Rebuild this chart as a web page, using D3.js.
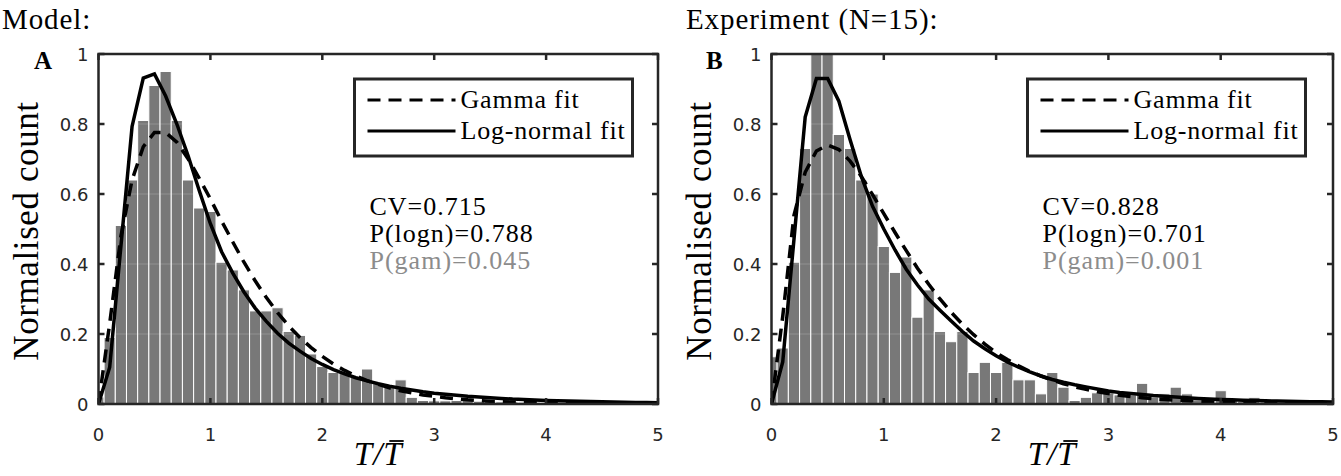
<!DOCTYPE html>
<html>
<head>
<meta charset="utf-8">
<script src="https://cdn.jsdelivr.net/npm/d3@7"></script>
<style>
  body { margin: 0; background: #fff; }
  svg { display: block; }
</style>
</head>
<body>
<script>
// bin centres (T / mean T), shared by histograms and fit curves
var binCentres = [0,0.1,0.2,0.3,0.4,0.5,0.6,0.7,0.8,0.9,1,1.1,1.2,1.3,1.4,1.5,1.6,1.7,1.8,1.9,2,
  2.1,2.2,2.3,2.4,2.5,2.6,2.7,2.8,2.9,3,3.1,3.2,3.3,3.4,3.5,3.6,3.7,3.8,3.9,4,
  4.1,4.2,4.3,4.4,4.5,4.6,4.7,4.8,4.9,5];

// panel A: model
var modelCounts = [0.02,0.19,0.51,0.64,0.81,0.91,0.95,0.81,0.64,0.56,0.55,0.405,0.383,0.326,0.266,0.266,0.275,
  0.207,0.196,0.143,0.107,0.09,0.09,0.078,0.1,0.058,0.05,0.069,0.019,0.01,0.009,0.009,0.01,0.012,0.008,0.008,
  0.006,0.006,0.005,0.005,0.004,0.004,0.003,0.003,0.003,0.002,0.002,0.002,0.001,0.001,0.001];
var modelGamma = [0,0.23,0.479,0.64,0.735,0.776,0.776,0.748,0.701,0.645,0.586,0.523,0.463,0.405,0.352,0.304,
  0.261,0.223,0.19,0.161,0.136,0.114,0.096,0.08,0.067,0.056,0.046,0.038,0.032,0.026,0.022,0.018,0.015,0.012,
  0.01,0.008,0.0066,0.0054,0.0044,0.0036,0.0029,0.0024,0.002,0.0016,0.0013,0.001,0.0008,0.0007,0.0005,0.0004,0.0004];
var modelLogn = [0,0.105,0.45,0.793,0.931,0.943,0.88,0.8,0.71,0.61,0.515,0.435,0.374,0.32,0.274,0.236,0.202,
  0.174,0.151,0.13,0.113,0.098,0.086,0.075,0.066,0.058,0.051,0.045,0.04,0.035,0.031,0.028,0.025,0.022,0.02,
  0.018,0.016,0.014,0.013,0.0115,0.0103,0.0093,0.0084,0.0076,0.0069,0.0062,0.0056,0.0051,0.0046,0.0042,0.0038];
var modelStats = ["CV=0.715", "P(logn)=0.788", "P(gam)=0.045"];

// panel B: experiment
var exptCounts = [0.135,0.16,0.405,0.73,1.0,1.0,0.77,0.73,0.64,0.6,0.45,0.376,0.42,0.248,0.326,0.207,0.178,
  0.207,0.09,0.119,0.09,0.119,0.069,0.069,0.029,0.09,0.048,0.01,0.019,0.032,0.032,0.026,0.026,0.059,0.02,
  0.029,0.048,0.029,0.012,0.01,0.038,0.01,0.008,0.019,0.006,0.005,0.004,0.004,0.003,0.003,0.002];
var exptGamma = [0,0.25,0.539,0.662,0.723,0.74,0.727,0.694,0.65,0.598,0.544,0.49,0.438,0.388,0.342,0.3,0.262,
  0.228,0.198,0.171,0.147,0.127,0.109,0.093,0.08,0.068,0.058,0.049,0.042,0.035,0.03,0.025,0.021,0.018,0.015,
  0.013,0.011,0.009,0.0077,0.0065,0.0055,0.0046,0.0038,0.0032,0.0027,0.0023,0.0019,0.0016,0.0013,0.0011,0.0009];
var exptLogn = [0,0.12,0.47,0.82,0.93,0.93,0.865,0.755,0.65,0.565,0.5,0.44,0.385,0.34,0.3,0.268,0.237,0.207,
  0.18,0.158,0.138,0.12,0.105,0.092,0.08,0.07,0.062,0.055,0.049,0.043,0.037,0.033,0.03,0.027,0.024,0.022,
  0.02,0.018,0.016,0.0145,0.013,0.012,0.011,0.01,0.0092,0.0085,0.0078,0.0072,0.0066,0.0061,0.0056];
var exptStats = ["CV=0.828", "P(logn)=0.701", "P(gam)=0.001"];

var xTicks = [0, 1, 2, 3, 4, 5];
var yTicks = [0, 0.2, 0.4, 0.6, 0.8, 1];
var yTickLabels = ["0", "0.2", "0.4", "0.6", "0.8", "1"];
var legendLabels = ["Gamma fit", "Log-normal fit"];

var width = 1341, height = 476;
var serif = "'Liberation Serif', 'Times New Roman', serif";
var sans = "'DejaVu Sans', sans-serif";
var axisColor = "#262626";

var svg = d3.select("body").append("svg")
  .attr("width", width)
  .attr("height", height);

var panels = [
  { left: 98.5, right: 658, title: "Model:", titleX: 2, letter: "A", letterX: 34,
    counts: modelCounts, gamma: modelGamma, logn: modelLogn, stats: modelStats },
  { left: 771.5, right: 1333, title: "Experiment (N=15):", titleX: 686, letter: "B", letterX: 706,
    counts: exptCounts, gamma: exptGamma, logn: exptLogn, stats: exptStats }
];

var plotTop = 54, plotBottom = 404;

panels.forEach(function(p, pi) {
  var x = d3.scaleLinear().domain([0, 5]).range([p.left, p.right]);
  var y = d3.scaleLinear().domain([0, 1]).range([plotBottom, plotTop]);
  var g = svg.append("g");

  var clipId = "clip" + pi;
  svg.append("clipPath").attr("id", clipId)
    .append("rect")
      .attr("x", p.left).attr("y", plotTop)
      .attr("width", p.right - p.left).attr("height", plotBottom - plotTop);

  var plot = g.append("g").attr("clip-path", "url(#" + clipId + ")");

  // histogram bars
  plot.selectAll("rect.bar")
    .data(p.counts)
    .enter()
    .append("rect")
      .attr("class", "bar")
      .attr("x", function(d, i) { return x(binCentres[i] - 0.05); })
      .attr("width", x(0.1) - x(0))
      .attr("y", function(d) { return y(d); })
      .attr("height", function(d) { return y(0) - y(d); })
      .attr("fill", "#787878")
      .attr("stroke", "#ffffff")
      .attr("stroke-width", 1);

  // faint grid over bars
  plot.selectAll("line.grid")
    .data(yTicks.slice(1, 5))
    .enter()
    .append("line")
      .attr("x1", p.left).attr("x2", p.right)
      .attr("y1", function(d) { return y(d); })
      .attr("y2", function(d) { return y(d); })
      .attr("stroke", "#ffffff")
      .attr("stroke-opacity", 0.18)
      .attr("stroke-width", 1);

  var line = d3.line()
    .x(function(d, i) { return x(binCentres[i]); })
    .y(function(d) { return y(d); });

  plot.append("path")
    .attr("d", line(p.gamma))
    .attr("fill", "none")
    .attr("stroke", "#000")
    .attr("stroke-width", 3.5)
    .attr("stroke-dasharray", "13,8");

  plot.append("path")
    .attr("d", line(p.logn))
    .attr("fill", "none")
    .attr("stroke", "#000")
    .attr("stroke-width", 3.5);

  // axes box
  g.append("rect")
    .attr("x", p.left).attr("y", plotTop)
    .attr("width", p.right - p.left).attr("height", plotBottom - plotTop)
    .attr("fill", "none")
    .attr("stroke", axisColor)
    .attr("stroke-width", 2.5);

  var tl = 6;
  xTicks.forEach(function(t) {
    g.append("line").attr("x1", x(t)).attr("x2", x(t)).attr("y1", plotBottom).attr("y2", plotBottom - tl)
      .attr("stroke", axisColor).attr("stroke-width", 2.5);
    g.append("line").attr("x1", x(t)).attr("x2", x(t)).attr("y1", plotTop).attr("y2", plotTop + tl)
      .attr("stroke", axisColor).attr("stroke-width", 2.5);
    g.append("text")
      .attr("x", x(t)).attr("y", 441)
      .attr("text-anchor", "middle")
      .style("font-family", sans).style("font-size", "18px")
      .attr("fill", "#262626")
      .text(t);
  });
  yTicks.forEach(function(t, i) {
    g.append("line").attr("x1", p.left).attr("x2", p.left + tl).attr("y1", y(t)).attr("y2", y(t))
      .attr("stroke", axisColor).attr("stroke-width", 2.5);
    g.append("line").attr("x1", p.right).attr("x2", p.right - tl).attr("y1", y(t)).attr("y2", y(t))
      .attr("stroke", axisColor).attr("stroke-width", 2.5);
    g.append("text")
      .attr("x", p.left - 10).attr("y", y(t) + 7)
      .attr("text-anchor", "end")
      .style("font-family", sans).style("font-size", "18px")
      .attr("fill", "#262626")
      .text(yTickLabels[i]);
  });

  // axis labels
  g.append("text")
    .attr("transform", "translate(" + (p.left - 61) + "," + ((plotTop + plotBottom) / 2 + 2) + ") rotate(-90)")
    .attr("text-anchor", "middle")
    .style("font-family", serif).style("font-size", "35px")
    .style("letter-spacing", "0.6px")
    .text("Normalised count");

  var xl = g.append("text")
    .attr("x", (p.left + p.right) / 2).attr("y", 465)
    .attr("text-anchor", "middle")
    .style("font-family", serif).style("font-size", "33px").style("font-style", "italic")
    .style("letter-spacing", "1px")
    .text("T/T");
  var ext = xl.node().getExtentOfChar(2);
  g.append("line")
    .attr("x1", ext.x + 6).attr("x2", ext.x + ext.width + 1)
    .attr("y1", ext.y + 5).attr("y2", ext.y + 5)
    .attr("stroke", "#000").attr("stroke-width", 1.8);

  // titles
  g.append("text")
    .attr("x", p.titleX).attr("y", 29)
    .style("font-family", serif).style("font-size", "29px")
    .style("letter-spacing", "0.9px")
    .text(p.title);
  g.append("text")
    .attr("x", p.letterX).attr("y", 69)
    .style("font-family", serif).style("font-size", "25px").style("font-weight", "bold")
    .text(p.letter);

  // legend
  var lx = p.left + 256, ly = 79;
  g.append("rect")
    .attr("x", lx).attr("y", ly).attr("width", 278).attr("height", 77)
    .attr("fill", "#fff").attr("stroke", axisColor).attr("stroke-width", 3);
  var rows = [{ y: ly + 21, dash: "13,8" }, { y: ly + 52, dash: null }];
  rows.forEach(function(r, i) {
    g.append("line")
      .attr("x1", lx + 13).attr("x2", lx + 101)
      .attr("y1", r.y).attr("y2", r.y)
      .attr("stroke", "#000").attr("stroke-width", 3)
      .attr("stroke-dasharray", r.dash);
    g.append("text")
      .attr("x", lx + 106).attr("y", r.y + 8)
      .style("font-family", serif).style("font-size", "26px")
      .style("letter-spacing", "0.8px")
      .text(legendLabels[i]);
  });

  // statistics
  var statColors = ["#000", "#000", "#8c8c8c"];
  p.stats.forEach(function(s, i) {
    g.append("text")
      .attr("x", p.left + 271).attr("y", 215 + i * 27)
      .style("font-family", serif).style("font-size", "26px")
      .style("letter-spacing", "1px")
      .attr("fill", statColors[i])
      .text(s);
  });
});
</script>
</body>
</html>
